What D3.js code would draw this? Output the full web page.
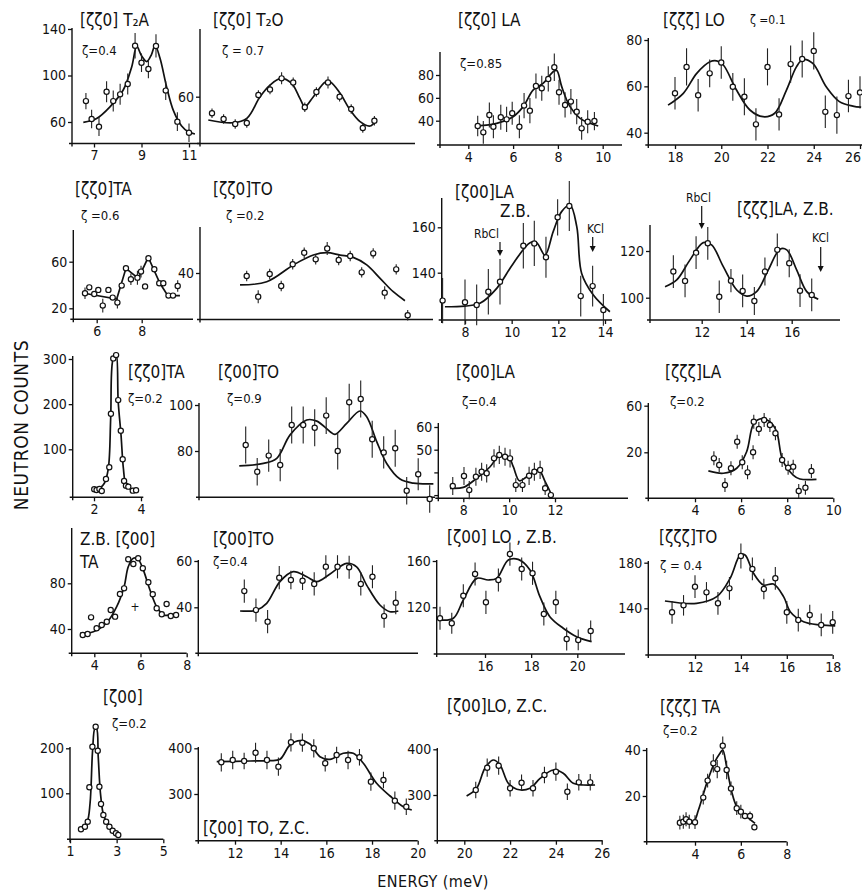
<!DOCTYPE html>
<html><head><meta charset="utf-8">
<script src="https://cdn.jsdelivr.net/npm/d3@7"></script>
<style>
body{margin:0;background:#fff}
svg{display:block}
text{font-family:"DejaVu Sans Condensed","Liberation Sans Narrow","Roboto Condensed","DejaVu Sans",sans-serif;font-stretch:condensed;fill:#111}
</style></head><body><svg id="c" width="862" height="892"></svg>
<script>
// ---------- DATA: points are [energy (meV), counts, error]; fits are [energy, counts] ----------
const p1a_pts=[[6.66,78,7],[6.9,62.6,8],[7.21,56,8],[7.53,86,9],[7.81,78,9],[8.1,83.8,9],[8.42,92.7,9],[8.73,125.6,11],[9.0,111,8],[9.29,105.6,8],[9.61,125.4,10],[10.02,87,8],[10.51,60.3,8],[11.0,50.8,8]];
const p1a_fit=[[6.55,59.7],[7.11,63],[7.67,73],[8.23,87.5],[8.59,107.6],[8.8,125],[9.0,117],[9.22,112],[9.42,118],[9.57,126],[9.78,114.8],[10.06,90],[10.34,70],[10.69,56.6],[10.97,51.6],[11.25,49.7]];
const p1b_pts=[[10,46.2,4],[10.5,41.4,4],[11,37.3,4],[11.5,38.1,4],[12,61.4,4],[12.5,66.1,4],[13,75.3,5],[13.5,71.9,4],[14,51.2,4],[14.5,63.9,4],[15,71.9,5],[15.5,60,4],[16,49.8,4],[16.5,33.9,4],[17,40,4]];
const p1b_fit=[[9.84,40.6],[10.9,38.3],[11.5,42],[12.07,60],[12.5,69.7],[12.97,75.3],[13.43,71.2],[13.79,58.6],[14.0,51.7],[14.37,60],[14.87,72],[15.09,72.5],[15.52,62.8],[15.95,49],[16.38,39.2],[16.81,35.6],[17.03,39.2]];
const p1c_pts=[[4.42,35.4,9],[4.67,29.8,10],[4.94,45,11],[5.12,34.7,10],[5.45,43,11],[5.71,41.2,11],[5.96,46.5,10],[6.28,34.7,10],[6.49,53.2,11],[6.75,48.8,11],[7.02,70.4,11],[7.28,68.4,11],[7.57,76.6,11],[7.84,86.8,12],[8.05,64.9,11],[8.32,53.8,11],[8.58,56.7,11],[8.84,47.9,11],[9.06,33.3,10],[9.33,39.1,10],[9.63,39.7,8]];
const p1c_fit=[[4.4,35.4],[5.27,37.7],[6.0,43.5],[6.45,52.3],[6.9,67],[7.35,72.8],[7.8,83],[7.95,83.9],[8.17,69.8],[8.54,52.3],[8.99,42.1],[9.43,37.7],[9.8,35.4]];
const p1d_pts=[[18,57,7],[18.5,68.4,8],[19,56.2,7],[19.5,65.6,6],[20,70.3,7],[20.5,59.8,6],[21,55.5,8],[21.5,43.6,7],[22,68.4,8],[22.5,47.9,7],[23,69.6,8],[23.5,71.8,8],[24,75.3,8],[24.5,49,7],[25,47.6,8],[25.5,55.8,7],[26,57.4,7]];
const p1d_fit=[[17.7,51.9],[18.36,57],[18.94,65.6],[19.51,70.6],[19.8,71],[20.09,69.2],[20.66,58.4],[21.24,49.8],[21.81,46.9],[22.31,48.4],[22.82,58.4],[23.25,68.4],[23.53,71.6],[23.96,69.9],[24.54,59.8],[25.11,53.4],[25.69,51.5],[26.05,51]];
const p2a_pts=[[5.48,32.9,5],[5.67,38,0],[5.89,32.3,0],[6.07,35.8,0],[6.27,22.3,6],[6.52,35.8,0],[6.71,29.2,0],[6.92,24.9,5],[7.11,39.5,0],[7.3,54.4,0],[7.52,44.9,5],[7.81,46.3,6],[7.97,51.5,5],[8.15,38.8,0],[8.3,62.9,0],[8.56,53.5,0],[8.78,41.5,0],[8.96,41.5,0],[9.19,30.9,0],[9.39,30.9,0],[9.6,39.1,5]];
const p2a_fit=[[5.44,32.9],[6.89,28],[7.3,54.3],[7.85,45.7],[8.29,63.8],[8.81,41.5],[9.16,30.9],[9.7,30.9]];
const p2b_pts=[[10,37.7,4],[10.5,21.8,5],[11,39.2,4],[11.5,30,4],[12,46.7,4],[12.5,55.6,4],[13,50.5,4],[13.5,58.9,5],[14,50,4],[14.5,53.1,4],[15,40.5,4],[15.5,55.1,4],[16,24.9,5],[16.5,42.8,4],[17,7.5,4]];
const p2b_fit=[[9.71,30.8],[10.87,33.3],[12.03,46.2],[12.9,53.8],[13.48,55.6],[14.06,53.8],[14.63,52],[15.22,46.2],[15.8,35.9],[16.37,25.6],[16.88,18.7]];
const p2c_pts=[[7.04,127.7,10],[8.0,127,10],[8.5,125.8,9],[9.0,131.6,10],[9.5,136,10],[10.5,151.9,10],[10.97,152.9,10],[11.47,146.8,9],[11.97,164.4,8],[12.47,169.4,11],[12.96,129.7,9],[13.47,134.1,9],[13.93,123.6,7]];
const p2c_fit=[[7.14,125],[8.0,125.3],[8.64,126.5],[9.36,133.1],[10.07,144.1],[10.79,153.2],[11.07,153.2],[11.43,147.8],[11.78,158.1],[12.14,166.9],[12.5,169.8],[12.79,160.3],[13.0,139.7],[13.5,130.2],[14.21,122.8]];
const p2d_pts=[[10.74,111.2,7],[11.26,107.2,7],[11.75,119.3,7],[12.27,123.3,7],[12.78,100.4,7],[13.3,107.3,5],[13.82,102.9,7],[14.34,98.6,6],[14.81,111.2,6],[15.36,120.5,7],[15.89,114.8,6],[16.37,103,7],[16.89,101.2,7]];
const p2d_fit=[[10.37,104.7],[10.89,107.6],[11.48,116.2],[12.07,123.6],[12.44,122.6],[12.96,113.3],[13.56,103.3],[14.0,100.7],[14.44,102.6],[14.96,111.9],[15.48,120.8],[15.78,120.5],[16.22,111.9],[16.67,102.6],[17.18,99.3]];
const p3a_pts=[[2.01,11.5,0],[2.11,10,0],[2.23,12.2,0],[2.33,7.7,0],[2.51,34.3,0],[2.65,60.2,0],[2.72,178.8,0],[2.82,301.3,0],[2.94,308.6,0],[3.03,209,0],[3.14,141.2,0],[3.22,77.9,0],[3.28,29.9,0],[3.36,19.5,0],[3.46,17.3,0],[3.65,8.4,0],[3.79,9.3,0]];
const p3a_fit=[[2.11,7.5],[2.44,24.8],[2.61,58],[2.71,168.6],[2.8,297.6],[2.94,312.4],[3.03,205.3],[3.15,131.6],[3.25,58],[3.36,22.6],[3.6,10],[3.82,7.7]];
const p3b_pts=[[10,82.6,8],[10.5,71,6],[11,78,7],[11.5,73.9,7],[12,91.3,8],[12.5,91.3,8],[13,90.1,8],[13.5,95.4,8],[14,80,8],[14.5,101.2,8],[15,102.6,8],[15.5,85.1,8],[16,79.4,7],[16.5,81.2,8],[17,62.7,6],[17.5,69.9,7],[18,59.1,6]];
const p3b_fit=[[9.72,73.5],[10.77,74.6],[11.35,76.8],[11.93,87],[12.65,93.5],[13.09,93],[13.67,88.4],[13.88,87.2],[14.39,92],[14.97,97.4],[15.26,94.9],[15.7,84],[16.13,74.6],[16.71,67.8],[17.29,66],[18.16,65.7]];
const p3c_pts=[[7.54,34,4],[8.03,38.4,4],[8.26,32.2,4],[8.55,38.1,4],[8.8,40.3,4],[9.02,39.6,4],[9.34,46.2,4],[9.57,47.7,4],[9.82,46.9,4],[10.04,46.2,4],[10.29,34.4,3],[10.58,34.4,3],[10.87,38.5,4],[11.1,40.3,4],[11.35,41.1,4],[11.57,33,3],[11.82,30,0]];
const p3c_fit=[[7.42,33],[8.0,33.4],[8.58,37.4],[9.17,42.5],[9.53,46.9],[9.97,46.9],[10.18,42.5],[10.45,36.3],[10.77,38.1],[11.28,41.1],[11.57,35.9],[11.82,30.8]];
const p3d_pts=[[4.82,14.8,6],[5.05,9.1,6],[5.3,-8.1,6],[5.56,6.3,6],[5.83,29.1,6],[6.05,11.4,6],[6.28,2.8,6],[6.52,20,6],[6.55,46.3,6],[6.77,40,6],[7.0,47.7,6],[7.25,43.4,6],[7.49,36.3,6],[7.78,13.4,6],[8.04,6.8,6],[8.26,7.7,6],[8.5,-13.2,6],[8.79,-10.4,6],[9.05,4,6]];
const p3d_fit=[[4.58,4],[5.23,2],[5.81,6.3],[6.24,20.5],[6.52,43.4],[6.81,48.6],[7.25,46.3],[7.54,37.7],[7.8,13.4],[8.26,0.5],[8.55,-2.9],[9.27,-3.2]];
const p4a_pts=[[3.5,34.7,0],[3.71,35.6,0],[3.86,50.2,0],[4.1,40.6,0],[4.32,43.5,0],[4.54,46.4,0],[4.71,56.6,0],[4.9,50.8,0],[5.11,70.6,0],[5.29,75.6,0],[5.47,101,0],[5.69,96.9,0],[5.9,101.9,0],[6.1,93.2,0],[6.34,80.9,0],[6.53,70.4,0],[6.7,58.1,0],[6.92,52.9,0],[7.13,61.9,0],[7.31,51.4,0],[7.54,52.3,0]];
const p4a_fit=[[3.38,36.2],[3.96,37.6],[4.54,45.5],[4.97,59.5],[5.29,77],[5.47,94.5],[5.69,101.9],[5.9,101],[6.12,91.7],[6.41,74.2],[6.7,59.5],[6.99,52.3],[7.28,52.3],[7.57,53.1]];
const p4a_cross=[[5.76,59.5]];
const p4b_pts=[[10,47,5],[10.5,38.8,5],[11,33.8,5],[11.5,52.8,5],[12,51.8,4],[12.5,51.5,4],[13,50.1,5],[13.5,57.5,5],[14,57.5,5],[14.5,57.3,5],[15,50.1,5],[15.5,53.2,5],[16,36.2,5],[16.5,42,5]];
const p4b_fit=[[9.82,38.4],[10.53,38.8],[10.96,41.7],[11.53,51.1],[12.1,55.4],[12.68,53.2],[13.11,51.1],[13.68,54.4],[14.39,59],[14.82,57.5],[15.25,49.6],[15.82,41],[16.25,38.1],[16.61,38.4]];
const p4c_pts=[[14.05,110.5,10],[14.56,106.2,9],[15.06,130,10],[15.57,148.8,10],[16.04,124.3,10],[16.58,143.6,10],[17.08,166,10],[17.59,153.1,10],[18.06,149.4,10],[18.55,114.2,10],[19.07,124.3,10],[19.54,92.6,10],[20.04,91.8,9],[20.58,99.5,9]];
const p4c_fit=[[14.05,109],[14.63,110.5],[15.06,126.3],[15.64,145],[16.14,143.6],[16.51,145],[17.01,160.8],[17.44,161.4],[17.95,152.2],[18.38,129.2],[18.81,111.9],[19.39,101.9],[19.97,94.6],[20.62,90.3]];
const p4d_pts=[[11,136.5,10],[11.5,142.6,9],[12,159,10],[12.5,154,9],[13,144.4,10],[13.5,157.5,10],[14,185.9,11],[14.5,174.5,10],[15,156.9,9],[15.5,166.3,10],[16,136.5,10],[16.5,129.7,10],[17,134.1,9],[17.5,125.4,10],[18,127.7,10]];
const p4d_fit=[[10.69,146.4],[12.07,144.4],[12.95,150.2],[13.53,166.3],[13.97,186.8],[14.18,186.8],[14.55,170.7],[14.98,160.4],[15.42,161.3],[15.86,150.2],[16.15,137],[16.73,128.2],[17.46,125.4],[18.11,124.5]];
const p5a_pts=[[1.47,20,0],[1.64,25.8,0],[1.76,36.9,0],[1.83,113.3,0],[1.96,203.6,0],[2.1,248,0],[2.19,194.7,0],[2.26,114.7,0],[2.33,76.2,0],[2.43,51.8,0],[2.55,36.9,0],[2.69,25.8,0],[2.83,16.9,0],[2.97,11.1,0],[3.07,7.3,0]];
const p5a_fit=[[1.5,20],[1.74,36.9],[1.86,77.8],[1.97,196.2],[2.07,244.4],[2.14,244],[2.21,181.3],[2.32,92.4],[2.46,48],[2.72,25.8],[3.07,11.1]];
const p5b_pts=[[11.4,369.4,20],[11.9,374.4,20],[12.4,372.2,18],[12.9,390.4,22],[13.4,374.4,20],[13.9,359.8,20],[14.45,413.1,20],[14.95,412.3,20],[15.45,400,20],[15.95,367.2,18],[16.45,385.3,18],[16.95,374.4,20],[17.45,380.3,18],[17.95,327,20],[18.5,330.6,18],[19.0,285.3,20],[19.5,272.2,18]];
const p5b_fit=[[11.2,370.7],[12.66,372.2],[13.53,372.9],[13.97,375.9],[14.41,407.2],[14.85,416.6],[15.28,409.4],[15.72,381.6],[16.16,375.9],[16.74,389.1],[17.18,389.1],[17.62,367.2],[18.2,323.4],[18.79,295.6],[19.37,272.2],[19.74,265]];
const p5c_pts=[[20.5,310.9,18],[21,359.7,20],[21.5,364.1,20],[22,314.7,18],[22.5,326.9,18],[23,314.7,18],[23.5,343.8,18],[24,351,20],[24.5,307.2,18],[25,327.7,18],[25.5,327.7,18]];
const p5c_fit=[[20.1,297.8],[20.54,314.7],[20.9,358.4],[21.27,376.6],[21.56,365.6],[21.92,325.6],[22.29,312.5],[22.87,314.7],[23.31,336.5],[23.89,354.7],[24.32,347.5],[24.76,325.6],[25.2,321.9],[25.71,321.9]];
const p5d_pts=[[3.34,8.4,3],[3.49,8.8,3],[3.61,9.9,3],[3.75,8.8,3],[4.0,8.6,3],[4.36,19.3,3],[4.55,26.7,3],[4.8,34.2,4],[4.97,31.7,4],[5.21,41.9,4],[5.38,31.3,4],[5.57,23.3,3],[5.82,14.7,3],[6.0,13.2,3],[6.18,11.3,0],[6.4,11.3,2],[6.59,6.4,0]];
const p5d_fit=[[3.27,8.8],[3.93,8.8],[4.15,13.9],[4.51,25.5],[4.87,34.9],[5.09,38.6],[5.21,40],[5.38,32.7],[5.6,21.9],[5.82,15.4],[6.18,11.7],[6.62,8.1]];

// ---------- tick labels ----------
const t1a_x=[7,9,11], t1a_y=[60,100,140];
const t1b_y=[60];
const t1c_x=[4,6,8,10], t1c_y=[40,60,80];
const t1d_x=[18,20,22,24,26], t1d_y=[40,60,80];
const t2a_x=[6,8], t2a_y=[20,60];
const t2b_y=[40];
const t2c_x=[8,10,12,14], t2c_y=[140,160];
const t2d_x=[12,14,16], t2d_y=[100,120];
const t3a_x=[2,4], t3a_y=[100,200,300];
const t3b_y=[80,100];
const t3c_x=[8,10,12], t3c_y=[30,40,50,60], t3c_ylab=[50,60];
const t3d_x=[4,6,8,10], t3d_y=[20,60];
const t4a_x=[4,6,8], t4a_y=[40,80];
const t4b_y=[40,60];
const t4c_x=[16,18,20], t4c_y=[120,160];
const t4d_x=[12,14,16,18], t4d_y=[140,180];
const t5a_x=[1,3,5], t5a_y=[100,200];
const t5b_x=[12,14,16,18,20], t5b_y=[300,400];
const t5c_x=[20,22,24,26], t5c_y=[300,400];
const t5d_x=[4,6,8], t5d_y=[20,40];

// ---------- layout (pixel frame of each panel; scales are anchored at two reference values) ----------
const panels=[
 {pts:p1a_pts,fit:p1a_fit,xt:t1a_x,yt:t1a_y,xs:[[7,94],[11,189]],ys:[[60,122],[140,29]],x0:72,x1:200,yT:28,yB:143.5},
 {pts:p1b_pts,fit:p1b_fit,xt:[],yt:t1b_y,xs:[[10,212],[17,374.4]],ys:[[60,96.7],[20,144.7]],x0:200,x1:415,yT:29,yB:143.5},
 {pts:p1c_pts,fit:p1c_fit,xt:t1c_x,yt:t1c_y,xs:[[4,468.3],[10,602.7]],ys:[[40,120.7],[80,75]],x0:440,x1:622,yT:52,yB:145},
 {pts:p1d_pts,fit:p1d_fit,xt:t1d_x,yt:t1d_y,xs:[[18,675],[26,860]],ys:[[40,132.7],[80,40]],x0:648.3,x1:862,yT:38,yB:145},
 {pts:p2a_pts,fit:p2a_fit,xt:t2a_x,yt:t2a_y,xs:[[6,96.7],[8,141.7]],ys:[[20,308.3],[60,261.7]],x0:73.3,x1:193,yT:230,yB:319.3,linear:true},
 {pts:p2b_pts,fit:p2b_fit,xt:[],yt:t2b_y,xs:[[10,246.7],[17,407.7]],ys:[[40,273],[0,325]],x0:200,x1:433,yT:227,yB:319.5},
 {pts:p2c_pts,fit:p2c_fit,xt:t2c_x,yt:t2c_y,xs:[[8,465],[14,605]],ys:[[140,272.7],[160,227.3]],x0:441.7,x1:612,yT:198,yB:320},
 {pts:p2d_pts,fit:p2d_fit,xt:t2d_x,yt:t2d_y,xs:[[12,701.7],[16,791.7]],ys:[[100,297.7],[120,251]],x0:650,x1:840,yT:225,yB:320},
 {pts:p3a_pts,fit:p3a_fit,xt:t3a_x,yt:t3a_y,xs:[[2,94],[4,141]],ys:[[100,449.3],[300,359]],x0:72.7,x1:143.3,yT:356,yB:497.3},
 {pts:p3b_pts,fit:p3b_fit,xt:[],yt:t3b_y,xs:[[10,245.7],[17,406.7]],ys:[[80,451],[100,405]],x0:199,x1:435,yT:403,yB:497.3},
 {pts:p3c_pts,fit:p3c_fit,xt:t3c_x,yt:t3c_y,ylab:t3c_ylab,xs:[[8,463.3],[12,555]],ys:[[60,427],[50,449.7]],x0:438.3,x1:628,yT:423,yB:498.3},
 {pts:p3d_pts,fit:p3d_fit,xt:t3d_x,yt:t3d_y,xs:[[4,695],[10,833.3]],ys:[[20,452.3],[60,405.7]],x0:648.3,x1:833.3,yT:403,yB:498.3},
 {pts:p4a_pts,fit:p4a_fit,cross:p4a_cross,xt:t4a_x,yt:t4a_y,xs:[[4,94.3],[8,186.7]],ys:[[40,629],[80,583.3]],x0:71.7,x1:186.7,yT:528,yB:653.3},
 {pts:p4b_pts,fit:p4b_fit,xt:[],yt:t4b_y,xs:[[10,244.3],[17,407.4]],ys:[[40,607.3],[60,561]],x0:198.3,x1:418,yT:560,yB:653.3},
 {pts:p4c_pts,fit:p4c_fit,xt:t4c_x,yt:t4c_y,xs:[[16,485],[20,577.3]],ys:[[120,607.3],[160,561]],x0:436.7,x1:625,yT:560,yB:654},
 {pts:p4d_pts,fit:p4d_fit,xt:t4d_x,yt:t4d_y,xs:[[12,695],[18,832.7]],ys:[[140,608.3],[180,562.7]],x0:648.3,x1:832.7,yT:561,yB:655},
 {pts:p5a_pts,fit:p5a_fit,xt:t5a_x,yt:t5a_y,xs:[[1,70],[5,163.3]],ys:[[100,793.3],[200,748.3]],x0:70,x1:163.3,yT:747,yB:839.3},
 {pts:p5b_pts,fit:p5b_fit,xt:t5b_x,yt:t5b_y,xs:[[12,235],[20,417.7]],ys:[[300,794],[400,748.3]],x0:198.3,x1:417.7,yT:747,yB:840.7},
 {pts:p5c_pts,fit:p5c_fit,xt:t5c_x,yt:t5c_y,xs:[[20,464.3],[26,601.7]],ys:[[300,795],[400,749.3]],x0:437.3,x1:602.7,yT:748,yB:840.7},
 {pts:p5d_pts,fit:p5d_fit,xt:t5d_x,yt:t5d_y,xs:[[4,695],[8,786.7]],ys:[[20,796],[40,750]],x0:646.7,x1:786.7,yT:748,yB:841.7}
];

const labels=[
 {t:"[ζζ0]  T₂A",x:80,y:26,s:17},{t:"ζ=0.4",x:82,y:55,s:13},
 {t:"[ζζ0] T₂O",x:213,y:26,s:17},{t:"ζ = 0.7",x:222,y:55,s:13},
 {t:"[ζζ0] LA",x:458,y:26,s:17},{t:"ζ=0.85",x:460,y:68,s:13},
 {t:"[ζζζ] LO",x:663,y:26,s:17},{t:"ζ =0.1",x:750,y:24,s:12},
 {t:"[ζζ0]TA",x:75,y:195,s:17},{t:"ζ =0.6",x:81,y:220,s:13},
 {t:"[ζζ0]TO",x:213,y:195,s:17},{t:"ζ =0.2",x:226,y:220,s:13},
 {t:"[ζ00]LA",x:455,y:198,s:17},{t:"Z.B.",x:500,y:217,s:17},
 {t:"RbCl",x:474,y:238,s:12},{t:"KCl",x:587,y:233,s:12},
 {t:"RbCl",x:686,y:202,s:12},{t:"[ζζζ]LA, Z.B.",x:737,y:215,s:17},{t:"KCl",x:812,y:242,s:12},
 {t:"[ζζ0]TA",x:128,y:378,s:17},{t:"ζ=0.2",x:128,y:403,s:13},
 {t:"[ζ00]TO",x:218,y:378,s:17},{t:"ζ=0.9",x:227,y:403,s:13},
 {t:"[ζ00]LA",x:456,y:378,s:17},{t:"ζ=0.4",x:462,y:406,s:13},
 {t:"[ζζζ]LA",x:665,y:378,s:17},{t:"ζ=0.2",x:670,y:406,s:13},
 {t:"Z.B.  [ζ00]",x:80,y:545,s:17},{t:"TA",x:80,y:568,s:17},
 {t:"[ζ00]TO",x:213,y:545,s:17},{t:"ζ=0.4",x:213,y:566,s:13},
 {t:"[ζ00] LO , Z.B.",x:447,y:543,s:17},
 {t:"[ζζζ]TO",x:659,y:543,s:17},{t:"ζ = 0.4",x:660,y:570,s:13},
 {t:"[ζ00]",x:103,y:703,s:17},{t:"ζ=0.2",x:112,y:728,s:13},
 {t:"[ζ00] TO, Z.C.",x:203,y:834,s:17},
 {t:"[ζ00]LO, Z.C.",x:447,y:712,s:17},
 {t:"[ζζζ] TA",x:660,y:713,s:17},{t:"ζ=0.2",x:663,y:735,s:13}
];
const arrows=[{x:500,y1:242,y2:256},{x:592.7,y1:237,y2:252},{x:701.7,y1:206,y2:229},{x:820.7,y1:247,y2:272}];

// ---------- drawing ----------
const svg=d3.select('#c');
svg.append('rect').attr('width',862).attr('height',892).attr('fill','#fff');
panels.forEach(p=>{
  const x=d3.scaleLinear().domain([p.xs[0][0],p.xs[1][0]]).range([p.xs[0][1],p.xs[1][1]]);
  const y=d3.scaleLinear().domain([p.ys[0][0],p.ys[1][0]]).range([p.ys[0][1],p.ys[1][1]]);
  const g=svg.append('g');
  g.append('line').attr('x1',p.x0).attr('x2',p.x0).attr('y1',p.yT).attr('y2',p.yB+3).attr('stroke','#111').attr('stroke-width',1.4);
  g.append('line').attr('x1',p.x0-3).attr('x2',p.x1).attr('y1',p.yB).attr('y2',p.yB).attr('stroke','#111').attr('stroke-width',1.4);
  if(p.xt.length){
    const ax=g.append('g').attr('transform',`translate(0,${p.yB})`)
      .call(d3.axisBottom(x).tickValues(p.xt).tickSize(4).tickPadding(3).tickFormat(d3.format('d')));
    ax.select('.domain').remove();
    ax.selectAll('line').attr('stroke','#111').attr('stroke-width',1.3);
    ax.selectAll('text').attr('font-size',14).attr('font-family',null);
  }
  const lab=p.ylab||p.yt;
  const ay=g.append('g').attr('transform',`translate(${p.x0},0)`)
    .call(d3.axisLeft(y).tickValues(p.yt).tickSize(4).tickPadding(2).tickFormat(d=>lab.includes(d)?d:''));
  ay.select('.domain').remove();
  ay.selectAll('line').attr('stroke','#111').attr('stroke-width',1.3);
  ay.selectAll('text').attr('font-size',14).attr('font-family',null);
  // fitted curve
  g.append('path').datum(p.fit)
    .attr('d',d3.line().x(d=>x(d[0])).y(d=>y(d[1])).curve(p.linear?d3.curveLinear:d3.curveCatmullRom.alpha(0.5)))
    .attr('fill','none').attr('stroke','#111').attr('stroke-width',1.7);
  // error bars
  g.selectAll('line.err').data(p.pts.filter(d=>d[2]>0)).join('line').attr('class','err')
    .attr('x1',d=>x(d[0])).attr('x2',d=>x(d[0])).attr('y1',d=>y(d[1]-d[2])).attr('y2',d=>y(d[1]+d[2]))
    .attr('stroke','#222').attr('stroke-width',1.1);
  // points
  g.selectAll('circle').data(p.pts).join('circle')
    .attr('cx',d=>x(d[0])).attr('cy',d=>y(d[1])).attr('r',2.6)
    .attr('fill','#fff').attr('stroke','#111').attr('stroke-width',1.2);
  if(p.cross){
    g.selectAll('text.cr').data(p.cross).join('text').attr('class','cr')
      .attr('x',d=>x(d[0])).attr('y',d=>y(d[1])+4).attr('text-anchor','middle').attr('font-size',12).text('+');
  }
});
svg.selectAll('text.lab').data(labels).join('text').attr('class','lab')
  .attr('x',d=>d.x).attr('y',d=>d.y).attr('font-size',d=>d.s).text(d=>d.t);
arrows.forEach(a=>{
  svg.append('line').attr('x1',a.x).attr('x2',a.x).attr('y1',a.y1).attr('y2',a.y2-5).attr('stroke','#111').attr('stroke-width',1.2);
  svg.append('path').attr('d',`M${a.x-3},${a.y2-6}L${a.x+3},${a.y2-6}L${a.x},${a.y2}Z`).attr('fill','#111');
});
svg.append('text').attr('transform','translate(28,425) rotate(-90)').attr('text-anchor','middle')
  .attr('font-size',19).attr('letter-spacing',0.6).text('NEUTRON COUNTS');
svg.append('text').attr('x',433).attr('y',887).attr('text-anchor','middle').attr('font-size',16).attr('letter-spacing',0.4).text('ENERGY (meV)');
// keep every text inside the picture
svg.selectAll('text').each(function(){
  const r=this.getBoundingClientRect();
  if(r.right>861){ d3.select(this).attr('dx',-(r.right-861)); }
});
</script></body></html>
